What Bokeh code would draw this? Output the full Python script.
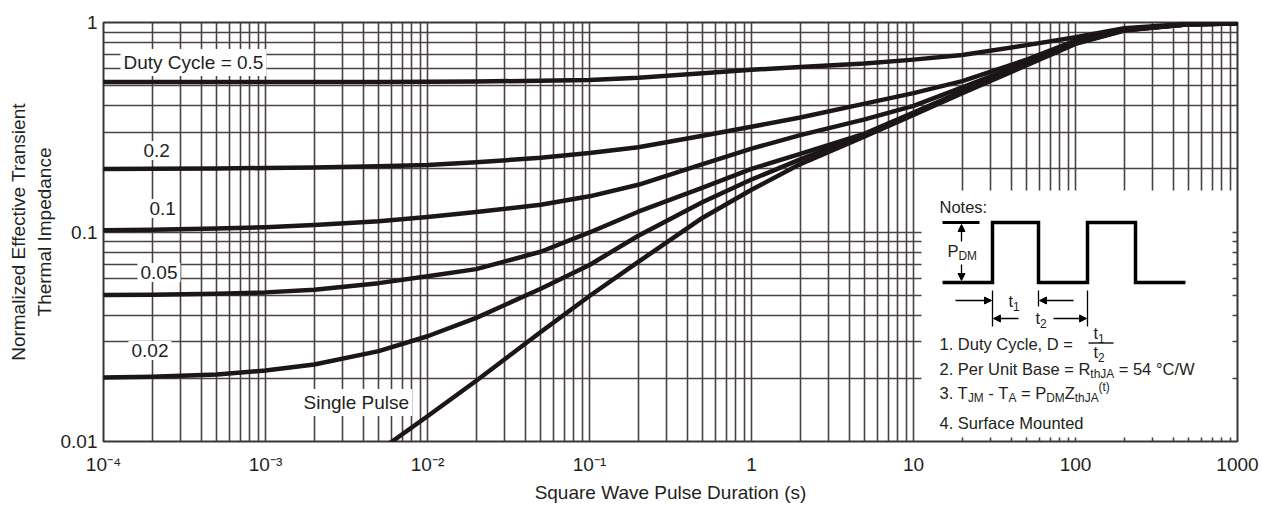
import math
from bokeh.plotting import figure
from bokeh.models import (FixedTicker, CustomJSTickFormatter, Label, BoxAnnotation,
                          Arrow, NormalHead, Range1d)
from bokeh.core.properties import value
from bokeh.embed import file_html
from bokeh.resources import INLINE

# ---------------- data ----------------
pulse_s = [1e-4, 2e-4, 5e-4, 1e-3, 2e-3, 5e-3, 1e-2, 2e-2, 5e-2, 0.1, 0.2, 0.5,
           1, 2, 5, 10, 20, 50, 100, 200, 500, 1000]
z_d050 = [0.52, 0.52, 0.52, 0.52, 0.52, 0.52, 0.521, 0.523, 0.527, 0.532, 0.545, 0.572,
          0.595, 0.613, 0.637, 0.665, 0.70, 0.78, 0.85, 0.94, 0.985, 0.99]
z_d020 = [0.200, 0.2005, 0.201, 0.202, 0.203, 0.206, 0.209, 0.215, 0.226, 0.238, 0.254, 0.288,
          0.318, 0.352, 0.41, 0.46, 0.525, 0.665, 0.82, 0.93, 0.98, 0.99]
z_d010 = [0.102, 0.1025, 0.104, 0.1055, 0.108, 0.1125, 0.118, 0.1245, 0.135, 0.148, 0.168, 0.211,
          0.250, 0.290, 0.345, 0.40, 0.49, 0.645, 0.81, 0.925, 0.98, 0.99]
z_d005 = [0.050, 0.0502, 0.0507, 0.0515, 0.053, 0.057, 0.0615, 0.0665, 0.0805, 0.0995, 0.125, 0.163,
          0.200, 0.236, 0.295, 0.372, 0.47, 0.635, 0.80, 0.92, 0.98, 0.99]
z_d002 = [0.0202, 0.0204, 0.0209, 0.0218, 0.0233, 0.027, 0.0318, 0.0389, 0.0536, 0.0696, 0.096, 0.139,
          0.178, 0.222, 0.292, 0.368, 0.465, 0.63, 0.795, 0.918, 0.98, 0.99]
single_s = [0.005, 0.01, 0.02, 0.05, 0.1, 0.2, 0.5, 1, 2, 5, 10, 20, 50, 100, 200, 500, 1000]
z_single = [0.0090, 0.0132, 0.0195, 0.0333, 0.0495, 0.072, 0.117, 0.159, 0.211, 0.286, 0.362,
            0.46, 0.625, 0.79, 0.915, 0.98, 0.99]

curve_labels = ["Duty Cycle = 0.5", "0.2", "0.1", "0.05", "0.02", "Single Pulse"]

x_ticks = [1e-4, 1e-3, 1e-2, 1e-1, 1, 10, 100, 1000]
x_tick_labels = ["10\u207b\u2074", "10\u207b\u00b3", "10\u207b\u00b2", "10\u207b\u00b9",
                 "1", "10", "100", "1000"]
y_ticks = [0.01, 0.1, 1]
y_tick_labels = ["0.01", "0.1", "1"]

# ---------------- layout / style ----------------
FONT = "Liberation Sans"
INK = "#231f20"
GRID = "#4a4242"
X_LO, X_HI = 1e-4, 1e3
Y_LO, Y_HI = 0.01, 1.0
W, H = 1260, 505
FRAME_W, FRAME_H = 1134, 419
BL, BT = 103, 22
BR = W - BL - FRAME_W
BB = H - BT - FRAME_H
# page-pixel frame edges
PL, PT = BL, BT
PR, PB = PL + FRAME_W, PT + FRAME_H


def dx(px):
    lo, hi = math.log10(X_LO), math.log10(X_HI)
    return 10 ** (lo + (px - PL) / (PR - PL) * (hi - lo))


def dy(py):
    lo, hi = math.log10(Y_LO), math.log10(Y_HI)
    return 10 ** (hi - (py - PT) / (PB - PT) * (hi - lo))


p = figure(width=W, height=H, x_axis_type="log", y_axis_type="log",
           x_range=Range1d(X_LO, X_HI), y_range=Range1d(Y_LO, Y_HI),
           output_backend="svg", toolbar_location=None,
           min_border_left=BL, min_border_right=BR, min_border_top=BT, min_border_bottom=BB)
p.background_fill_color = "white"
p.border_fill_color = "white"
p.outline_line_color = "#3a3434"
p.outline_line_width = 2

minor_x = [m * 10.0 ** k for k in range(-4, 3) for m in range(2, 10)]
minor_y = [m * 10.0 ** k for k in range(-2, 0) for m in range(2, 10)]
p.xaxis.ticker = FixedTicker(ticks=x_ticks, minor_ticks=minor_x)
p.yaxis.ticker = FixedTicker(ticks=y_ticks, minor_ticks=minor_y)
p.xgrid.ticker = p.xaxis.ticker
p.ygrid.ticker = p.yaxis.ticker

fmt_code = """
const lt = Math.log10(tick);
let best = 0, bd = Infinity;
for (let i = 0; i < tvals.length; i++) {
  const d = Math.abs(Math.log10(tvals[i]) - lt);
  if (d < bd) { bd = d; best = i; }
}
return tlabels[best];
"""
p.xaxis.formatter = CustomJSTickFormatter(args=dict(tvals=x_ticks, tlabels=x_tick_labels), code=fmt_code)
p.yaxis.formatter = CustomJSTickFormatter(args=dict(tvals=y_ticks, tlabels=y_tick_labels), code=fmt_code)

for g in (p.xgrid[0], p.ygrid[0]):
    g.grid_line_color = GRID
    g.grid_line_width = 1.6
    g.minor_grid_line_color = GRID
    g.minor_grid_line_width = 1.6

for ax in (p.xaxis[0], p.yaxis[0]):
    ax.axis_line_color = None
    ax.major_tick_line_color = None
    ax.minor_tick_line_color = None
    ax.major_tick_out = 0
    ax.minor_tick_out = 0
    ax.major_label_text_font = FONT
    ax.major_label_text_font_size = "19px"
    ax.major_label_text_color = INK
    ax.axis_label_text_font = FONT
    ax.axis_label_text_font_size = "19px"
    ax.axis_label_text_font_style = "normal"
    ax.axis_label_text_color = INK

p.xaxis.axis_label = "Square Wave Pulse Duration (s)"
p.xaxis.major_label_standoff = 12
p.xaxis.axis_label_standoff = 4
p.yaxis.axis_label = "Normalized Effective Transient\nThermal Impedance"
p.yaxis.major_label_standoff = 6
p.yaxis.axis_label_standoff = 3

# white notes panel (hides the grid, leaves short stubs at the edges)
p.add_layout(BoxAnnotation(left=dx(921), right=dx(1232), top=dy(190), bottom=dy(437),
                           fill_color="white", fill_alpha=1.0, line_color=None, level="underlay"))

# ---------------- curves ----------------
CURVE = "#1c1616"
for ys in (z_d050, z_d020, z_d010, z_d005, z_d002):
    p.line(pulse_s, ys, line_color=CURVE, line_width=4.5, line_join="round", line_cap="round")
p.line(single_s, z_single, line_color=CURVE, line_width=4.5, line_join="round", line_cap="round")

# curve labels (page-pixel anchor: left x, centre y)
label_pos = [(120, 62), (140, 150), (146, 208), (137, 272), (128, 350), (300, 402)]
for txt, (lx, ly) in zip(curve_labels, label_pos):
    p.add_layout(Label(x=dx(lx), y=dy(ly), text=txt, text_font=FONT, text_font_size="19px",
                       text_color=INK, text_align="left", text_baseline="middle",
                       background_fill_color="white", background_fill_alpha=1.0, padding=3))

# ---------------- notes panel ----------------
AW = {' ': 278, '!': 278, '(': 333, ')': 333, '-': 333, '.': 278, '/': 278, ':': 278, ',': 278,
      '=': 584, '\u00b0': 400}
for c in "0123456789":
    AW[c] = 556
AW.update(dict(A=667, B=667, C=722, D=722, E=667, F=611, G=778, H=722, I=278, J=500, K=667, L=556,
               M=833, N=722, O=778, P=667, Q=778, R=722, S=667, T=611, U=722, V=667, W=944, X=667,
               Y=667, Z=611))
AW.update(dict(a=556, b=556, c=500, d=556, e=556, f=278, g=556, h=556, i=222, j=222, k=500, l=222,
               m=833, n=556, o=556, p=556, q=556, r=333, s=500, t=278, u=556, v=500, w=722, x=500,
               y=500, z=500))

NS = 16.5


def tw(s, size):
    return sum(AW.get(c, 556) for c in s) / 1000.0 * size


def rich(x0, yc, parts, size=NS):
    """Draw a run of text pieces; yc is the visual centre (page px) of the main text."""
    x = x0
    for s, kind in parts:
        if kind == "n":
            fs, y = size, yc
        elif kind == "sub":
            fs, y = size * 0.72, yc + size * 0.36
        else:
            fs, y = size * 0.72, yc - size * 0.34
        core = s.lstrip(" ")
        x += tw(s[:len(s) - len(core)], fs)
        trail = core[len(core.rstrip(" ")):]
        core = core.rstrip(" ")
        p.text(x=[dx(x)], y=[dy(y)], text=[core], text_font=value(FONT),
               text_font_size=f"{fs:.1f}px", text_color=INK,
               text_align="left", text_baseline="middle")
        x += tw(core + trail, fs)


rich(939, 206, [("Notes:", "n")])

# pulse waveform
wave_px = [942, 992, 992, 1038, 1038, 1087, 1087, 1135, 1135, 1185]
wave_py = [282, 282, 222, 222, 282, 282, 222, 222, 282, 282]
p.line([dx(v) for v in wave_px], [dy(v) for v in wave_py], line_color="black",
       line_width=3.5, line_join="miter")
p.line([dx(942), dx(979)], [dy(222), dy(222)], line_color="black", line_width=3)


def arrow(x0, y0, x1, y1):
    p.add_layout(Arrow(x_start=dx(x0), y_start=dy(y0), x_end=dx(x1), y_end=dy(y1),
                       line_color="black", line_width=1.3,
                       end=NormalHead(size=7, fill_color="black", line_color="black")))


arrow(961, 241, 961, 224)
arrow(961, 264, 961, 280)
rich(947, 250, [("P", "n"), ("DM", "sub")])

for vx, vy0, vy1 in [(992, 290, 326), (1038, 290, 306), (1087, 290, 326)]:
    p.line([dx(vx), dx(vx)], [dy(vy0), dy(vy1)], line_color="black", line_width=1.3)
arrow(955, 300, 991, 300)
arrow(1073, 300, 1039, 300)
arrow(1018, 318, 993, 318)
arrow(1053, 318, 1086, 318)
rich(1008, 300, [("t", "n"), ("1", "sub")])
rich(1035, 317, [("t", "n"), ("2", "sub")])

rich(939, 343, [("1. Duty Cycle, D =", "n")])
rich(1093, 332, [("t", "n"), ("1", "sub")])
p.line([dx(1088), dx(1113)], [dy(342.5), dy(342.5)], line_color=INK, line_width=1.3)
rich(1093, 351, [("t", "n"), ("2", "sub")])
rich(939, 368, [("2. Per Unit Base = R", "n"), ("thJA", "sub"), (" = 54 \u00b0C/W", "n")])
rich(939, 392, [("3. T", "n"), ("JM", "sub"), (" - T", "n"), ("A", "sub"), (" = P", "n"),
                ("DM", "sub"), ("Z", "n"), ("thJA", "sub"), ("(t)", "sup")])
rich(939, 422, [("4. Surface Mounted", "n")])

open("out.html", "w").write(file_html(p, INLINE))
